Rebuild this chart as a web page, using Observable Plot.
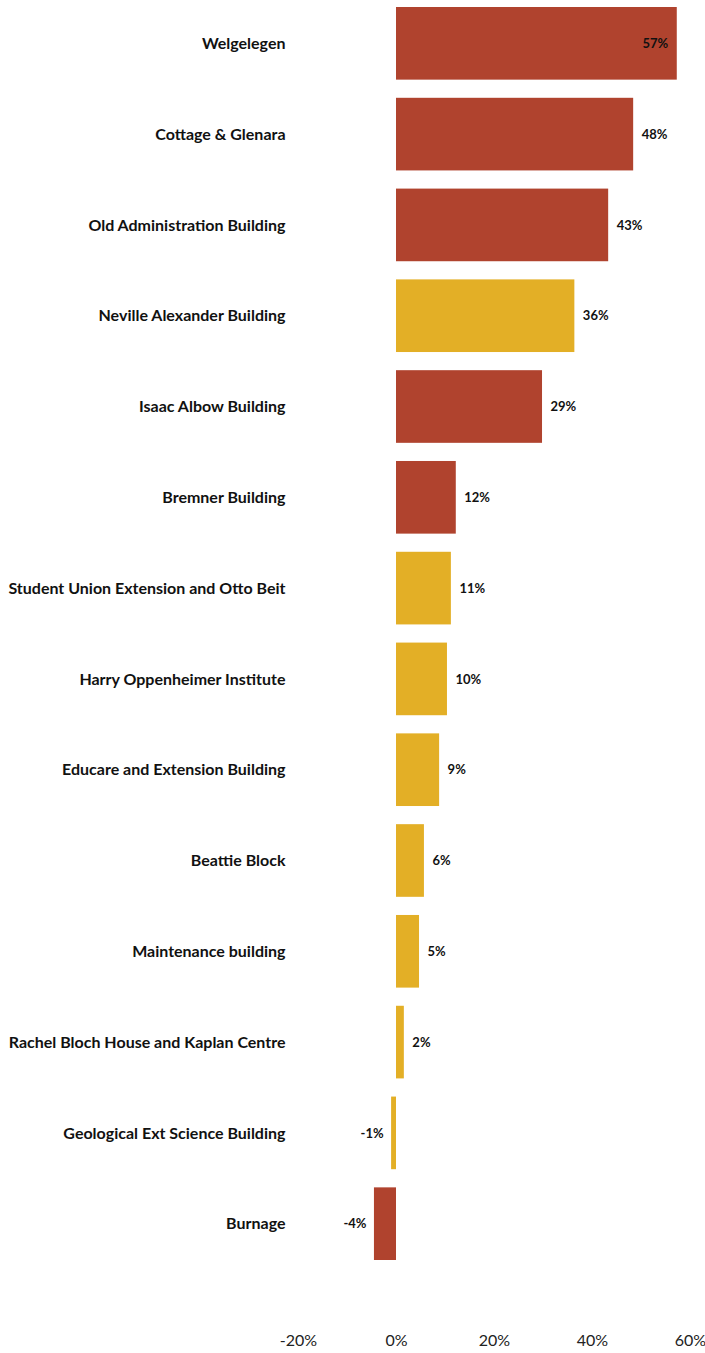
<!DOCTYPE html>
<html>
<head>
<meta charset="utf-8">
<script src="https://cdn.jsdelivr.net/npm/d3@7"></script>
<script src="https://cdn.jsdelivr.net/npm/@observablehq/plot@0.6"></script>
<style>
  html, body { margin: 0; padding: 0; background: #fff; }
  #chart svg { display: block; }
</style>
</head>
<body>
<div id="chart"></div>
<script>
const buildings = [
  "Welgelegen",
  "Cottage & Glenara",
  "Old Administration Building",
  "Neville Alexander Building",
  "Isaac Albow Building",
  "Bremner Building",
  "Student Union Extension and Otto Beit",
  "Harry Oppenheimer Institute",
  "Educare and Extension Building",
  "Beattie Block",
  "Maintenance building",
  "Rachel Bloch House and Kaplan Centre",
  "Geological Ext Science Building",
  "Burnage"
];
const values = [57.3, 48.4, 43.3, 36.4, 29.8, 12.2, 11.2, 10.4, 8.8, 5.7, 4.7, 1.6, -1.0, -4.5];
const valueLabels = ["57%", "48%", "43%", "36%", "29%", "12%", "11%", "10%", "9%", "6%", "5%", "2%", "-1%", "-4%"];
const groups = ["A", "A", "A", "B", "A", "A", "B", "B", "B", "B", "B", "B", "B", "A"];
const groupNames = ["A", "B"];
const groupColors = ["#b0432e", "#e3af26"];
const xTicks = [-20, 0, 20, 40, 60];

const data = buildings.map((b, i) => ({
  building: b,
  value: values[i],
  label: valueLabels[i],
  group: groups[i]
}));

const inside = data.filter(d => d.value >= 55);
const outsidePos = data.filter(d => d.value >= 0 && d.value < 55);
const outsideNeg = data.filter(d => d.value < 0);

const chart = Plot.plot({
  width: 705,
  height: 1353,
  marginLeft: 298,
  marginRight: 15,
  marginTop: 7,
  marginBottom: 93,
  style: { fontFamily: "Lato, sans-serif" },
  x: { domain: [-20, 60], axis: null },
  y: { domain: buildings, paddingInner: 0.2, paddingOuter: 0, round: false, axis: null },
  color: { type: "ordinal", domain: groupNames, range: groupColors },
  marks: [
    Plot.barX(data, { y: "building", x1: 0, x2: "value", fill: "group" }),
    Plot.axisY({ tickSize: 0, tickPadding: 13, fontSize: 16, fontWeight: "bold", fill: "#111", label: null }),
    Plot.axisX({ ticks: xTicks, tickFormat: d => d + "%", tickSize: 0, tickPadding: 74, fontSize: 16, fill: "#222", label: null }),
    Plot.text(inside, { y: "building", x: "value", text: "label", textAnchor: "end", dx: -9, fontSize: 13, fontWeight: "bold", fill: "#111" }),
    Plot.text(outsidePos, { y: "building", x: "value", text: "label", textAnchor: "start", dx: 8, fontSize: 13, fontWeight: "bold", fill: "#111" }),
    Plot.text(outsideNeg, { y: "building", x: "value", text: "label", textAnchor: "end", dx: -8, fontSize: 13, fontWeight: "bold", fill: "#111" })
  ]
});
document.getElementById("chart").appendChild(chart);
</script>
</body>
</html>
